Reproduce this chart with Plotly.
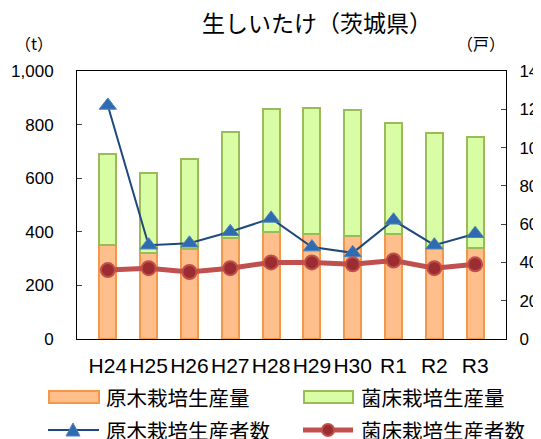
import plotly.graph_objects as go

years = ["H24", "H25", "H26", "H27", "H28", "H29", "H30", "R1", "R2", "R3"]
log_tons = [352, 320, 335, 376, 400, 390, 385, 390, 338, 338]
bed_tons = [338, 300, 335, 397, 457, 471, 469, 415, 429, 417]
log_growers = [122, 49, 50, 56, 63, 48, 45, 62, 49, 55]
bed_growers = [36, 37, 35, 37, 40, 40, 39, 41, 37, 39]

jp = "Noto Sans CJK JP, sans-serif"
num = "Liberation Sans, Arial, sans-serif"

# page sits 8px in from the window edge (body margin)
OFF = 8
W, H = 541 - OFF, 439 - OFF
# plot box in window pixels: x 77..506, y 71..339
L, R, T, B = 77 - OFF, 506 - OFF, 71 - OFF, 339 - OFF


def px(x):
    return (x - OFF - L) / (R - L)


def py(y):
    return (B - (y - OFF)) / (B - T)


sx = 1 / (R - L)
sy = 1 / (B - T)

orange = dict(fill="#FFBF8C", line="#F79646")
green = dict(fill="#D9FDA4", line="#9BBB59")
blue_line, blue_mk = "#1F497D", "#2E6BB0"
red_line, red_mk = "#C0504D", "#9B2D30"

fig = go.Figure()
fig.add_trace(go.Bar(
    x=years, y=log_tons, name="原木栽培生産量",
    marker=dict(color=orange["fill"], line=dict(color=orange["line"], width=2)),
))
fig.add_trace(go.Bar(
    x=years, y=bed_tons, name="菌床栽培生産量",
    marker=dict(color=green["fill"], line=dict(color=green["line"], width=2)),
))
fig.add_trace(go.Scatter(
    x=years, y=log_growers, name="原木栽培生産者数", yaxis="y2",
    mode="lines+markers",
    line=dict(color=blue_line, width=2),
    marker=dict(symbol="triangle-up", size=15, color=blue_mk,
                line=dict(color="#4F81BD", width=1)),
))
fig.add_trace(go.Scatter(
    x=years, y=bed_growers, name="菌床栽培生産者数", yaxis="y2",
    mode="lines+markers",
    line=dict(color=red_line, width=5),
    marker=dict(symbol="circle", size=14, color=red_mk,
                line=dict(color=red_line, width=2)),
))

# hand-drawn legend with wide swatches like the original
tx, ty = px(73), py(430)
cx, cy = px(328), py(430)
shapes = [
    dict(type="rect", x0=px(49), x1=px(99), y0=py(403), y1=py(391),
         fillcolor=orange["fill"], line=dict(color=orange["line"], width=2)),
    dict(type="rect", x0=px(304), x1=px(353), y0=py(403), y1=py(391),
         fillcolor=green["fill"], line=dict(color=green["line"], width=2)),
    dict(type="line", x0=px(48), x1=px(99), y0=ty, y1=ty,
         line=dict(color=blue_line, width=2)),
    dict(type="path",
         path=f"M {tx - 7 * sx} {ty - 6 * sy} L {tx + 7 * sx} {ty - 6 * sy} "
              f"L {tx} {ty + 7 * sy} Z",
         fillcolor=blue_mk, line=dict(color="#4F81BD", width=1)),
    dict(type="line", x0=px(303), x1=px(353), y0=cy, y1=cy,
         line=dict(color=red_line, width=5)),
    dict(type="circle", x0=cx - 6 * sx, x1=cx + 6 * sx,
         y0=cy - 6 * sy, y1=cy + 6 * sy,
         fillcolor=red_mk, line=dict(color=red_line, width=2)),
]
for s in shapes:
    s.update(xref="paper", yref="paper", opacity=1, layer="above")

labels = [("原木栽培生産量", 104, 397), ("菌床栽培生産量", 359, 397),
          ("原木栽培生産者数", 104, 430), ("菌床栽培生産者数", 359, 430)]
annotations = [
    dict(text=t, x=px(x0), y=py(y0), xanchor="left", yanchor="middle",
         font=dict(family=jp, size=20.5))
    for t, x0, y0 in labels
]
annotations += [
    dict(text="生しいたけ（茨城県）", x=px(317), y=py(22),
         xanchor="center", yanchor="middle", font=dict(family=jp, size=23)),
    dict(text="（t）", x=px(34), y=py(43), xanchor="center",
         yanchor="middle", font=dict(family=jp, size=16)),
    dict(text="（戸）", x=px(481), y=py(43), xanchor="center",
         yanchor="middle", font=dict(family=jp, size=16)),
]
for a in annotations:
    a.update(xref="paper", yref="paper", showarrow=False)

fig.update_layout(
    template="simple_white",
    width=W, height=H,
    margin=dict(l=L, r=W - R, t=T, b=H - B, pad=0, autoexpand=False),
    barmode="stack", bargap=0.58,
    showlegend=False,
    font=dict(family=jp, size=16, color="black"),
    shapes=shapes,
    annotations=annotations,
    xaxis=dict(showline=True, mirror=True, linecolor="black", ticks="",
               tickfont=dict(size=21, family=num), ticklabelstandoff=8,
               showgrid=False, automargin=False),
    yaxis=dict(range=[0, 1000], dtick=200, tickformat=",d",
               showline=True, linecolor="black", ticks="inside", ticklen=5,
               tickfont=dict(size=17, family=num), ticklabelstandoff=19,
               showgrid=False, zeroline=False, automargin=False),
    yaxis2=dict(range=[0, 140], dtick=20, overlaying="y", side="right",
                showline=True, linecolor="black", ticks="inside", ticklen=5,
                tickfont=dict(size=17, family=num), ticklabelstandoff=9,
                showgrid=False, zeroline=False, automargin=False),
)

fig.write_html("out.html")
